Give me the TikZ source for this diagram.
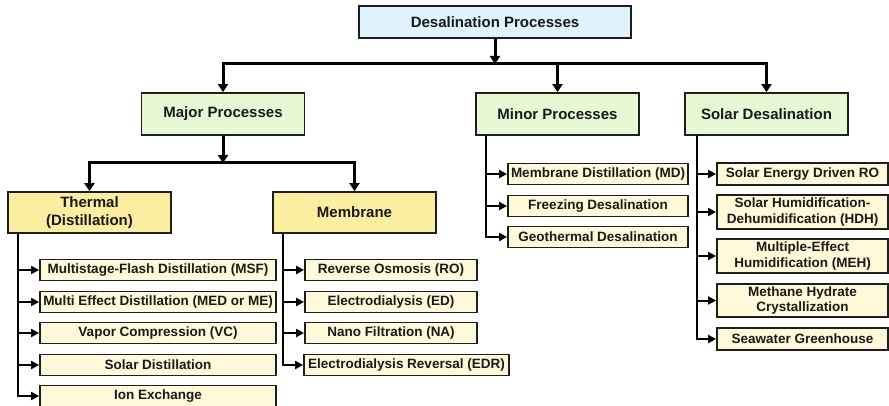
\documentclass[tikz,border=0pt]{standalone}
\usepackage{fontspec}
\setmainfont{Liberation Sans}
\usetikzlibrary{arrows.meta}
\definecolor{topfill}{RGB}{224,242,252}
\definecolor{grnfill}{RGB}{231,248,212}
\definecolor{yelfill}{RGB}{252,238,160}
\definecolor{itmfill}{RGB}{255,249,218}
\definecolor{edge}{RGB}{30,30,30}
\tikzset{
 box/.style={draw=edge, line width=1.8pt, inner sep=0pt, align=center, text=black!90},
 topbox/.style={box, fill=topfill, font=\fontsize{15}{17}\selectfont\bfseries},
 grpbox/.style={box, fill=grnfill, font=\fontsize{15}{17}\selectfont\bfseries, minimum width=163pt, minimum height=42pt},
 subbox/.style={box, fill=yelfill, font=\fontsize{15}{18}\selectfont\bfseries, minimum width=163pt, minimum height=41pt},
 itembox/.style={box, fill=itmfill, font=\fontsize{13.5}{15.5}\selectfont\bfseries},
 thitem/.style={itembox, minimum width=236pt, minimum height=21pt},
 meitem/.style={itembox, minimum width=172pt, minimum height=21pt},
 miitem/.style={itembox, minimum width=180pt, minimum height=21pt},
 soitem/.style={itembox, minimum width=171pt},
 thickarr/.style={draw=black, line width=3pt, -{Triangle[width=10pt,length=8pt]}},
 thinarr/.style={draw=black, line width=2pt, -{Triangle[width=8pt,length=8pt]}},
}
\begin{document}
\begin{tikzpicture}[x=1pt,y=-1pt]
\useasboundingbox (0,0) rectangle (889,406);
\clip (0,0) rectangle (889,406);
% level 0
\node[topbox, minimum width=272pt, minimum height=32pt] (top) at (495,22) {Desalination Processes};
% level 1
\node[grpbox] (major) at (223,114) {Major Processes};
\node[grpbox] (minor) at (557.5,114) {Minor Processes};
\node[grpbox] (solar) at (766.5,114) {Solar Desalination};
% level 2
\node[subbox] (thermal) at (89.5,212.5) {Thermal\\(Distillation)};
\node[subbox] (membrane) at (354.5,212.5) {Membrane};
% thermal items
\node[thitem] (msf) at (158,270) {Multistage-Flash Distillation (MSF)};
\node[thitem] (med) at (158,302) {Multi Effect Distillation (MED or ME)};
\node[thitem] (vc) at (158,333) {Vapor Compression (VC)};
\node[thitem] (sd) at (158,365) {Solar Distillation};
\node[thitem] (ie) at (158,396) {Ion Exchange};
% membrane items
\node[meitem] (ro) at (391,270) {Reverse Osmosis (RO)};
\node[meitem] (ed) at (391,302) {Electrodialysis (ED)};
\node[meitem] (na) at (391,333) {Nano Filtration (NA)};
\node[itembox, minimum width=205pt, minimum height=21pt] (edr) at (406.5,365) {Electrodialysis Reversal (EDR)};
% minor items
\node[miitem] (md) at (598,174) {Membrane Distillation (MD)};
\node[miitem] (fd) at (598,206) {Freezing Desalination};
\node[miitem] (gd) at (598,237) {Geothermal Desalination};
% solar items
\node[soitem, minimum height=22pt] (sro) at (802.5,174) {Solar Energy Driven RO};
\node[soitem, minimum height=34pt] (hdh) at (802.5,212) {Solar Humidification-\\Dehumidification (HDH)};
\node[soitem, minimum height=34pt] (meh) at (802.5,256) {Multiple-Effect\\Humidification (MEH)};
\node[soitem, minimum height=33pt] (mhc) at (802.5,300.5) {Methane Hydrate\\Crystallization};
\node[soitem, minimum height=22pt] (swg) at (802.5,339) {Seawater Greenhouse};
% thick connectors
\coordinate (b) at (557.5,64);
\coordinate (c) at (223,163);
\draw[thickarr] (top.south) -- (top.south |- b);
\draw[thickarr] (b) -| (major.north);
\draw[thickarr] (b) -| (solar.north);
\draw[thickarr] (b) -- (minor.north);
\draw[thickarr] (major.south) -- (c);
\draw[thickarr] (c) -| (thermal.north);
\draw[thickarr] (c) -| (membrane.north);
% thin connectors
\foreach \n in {msf,med,vc,sd,ie} \draw[thinarr] ([xshift=11pt]thermal.south west) |- (\n.west);
\foreach \n in {ro,ed,na,edr} \draw[thinarr] ([xshift=11pt]membrane.south west) |- (\n.west);
\foreach \n in {md,fd,gd} \draw[thinarr] ([xshift=11pt]minor.south west) |- (\n.west);
\foreach \n in {sro,hdh,meh,mhc,swg} \draw[thinarr] ([xshift=13pt]solar.south west) |- (\n.west);
\end{tikzpicture}
\end{document}
